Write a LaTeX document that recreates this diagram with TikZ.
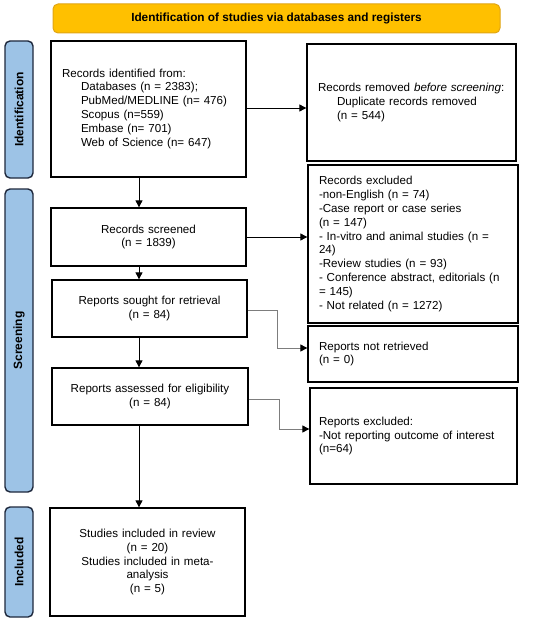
\documentclass[tikz,border=0pt]{standalone}
\usepackage{fontspec}
\setmainfont{Liberation Sans}
\usetikzlibrary{arrows.meta}
\definecolor{hdrfill}{RGB}{255,192,0}
\definecolor{hdrline}{RGB}{224,165,20}
\definecolor{sidefill}{RGB}{157,195,230}
\definecolor{sideline}{RGB}{30,40,60}
\definecolor{elbgray}{RGB}{125,125,125}
\tikzset{
  box/.style={draw=black, line width=1.3pt, fill=white, inner sep=0pt, font=\fontsize{11.6}{13.9}\selectfont},
  lbox/.style={box, align=left, inner xsep=11pt},
  cbox/.style={box, align=center, inner xsep=5pt},
  side/.style={draw=sideline, line width=1.4pt, fill=sidefill, rounded corners=5pt, rotate=90, inner sep=0pt, font=\fontsize{12}{14}\selectfont\bfseries},
  hdr/.style={draw=hdrline, line width=1pt, fill=hdrfill, rounded corners=5pt, inner sep=0pt, font=\fontsize{11.8}{14}\selectfont\bfseries},
  arr/.style={draw=black, line width=0.9pt, -{Triangle[length=7pt,width=7pt]}},
  elb/.style={draw=elbgray, line width=0.9pt, -{Triangle[length=7pt,width=7pt,color=black]}}
}
\begin{document}
\begin{tikzpicture}[x=1pt,y=-1pt]
\useasboundingbox (0,0) rectangle (550,623);
% header
\node[hdr, minimum width=447pt, minimum height=29pt] (hdr) at (276.5,18.5) {Identification of studies via databases and registers};
% side bars
\node[side, minimum width=137pt, minimum height=28pt] (sid) at (19,109.5) {Identification};
\node[side, minimum width=303pt, minimum height=28pt] (sscr) at (19,340.5) {Screening};
\node[side, minimum width=110pt, minimum height=28pt] (sinc) at (19,562) {Included};
% left column
\node[lbox, text width=173pt, minimum height=136pt] (b1) at (148.5,109)
  {Records identified from:\\[-1pt]
   \hspace*{19pt}Databases (n = 2383);\\
   \hspace*{19pt}PubMed/MEDLINE (n= 476)\\
   \hspace*{19pt}Scopus (n=559)\\
   \hspace*{19pt}Embase (n= 701)\\
   \hspace*{19pt}Web of Science (n= 647)};
\node[cbox, text width=185pt, minimum height=58pt] (scr) at (148.5,237)
  {Records screened\\(n = 1839)};
\node[cbox, text width=185pt, minimum height=57pt] (sought) at (149.5,308.5)
  {Reports sought for retrieval\\(n = 84)};
\node[cbox, text width=186pt, minimum height=57pt] (assess) at (150,396.5)
  {Reports assessed for eligibility\\(n = 84)};
\node[cbox, text width=185pt, minimum height=108pt] (incl) at (147.5,562)
  {Studies included in review\\(n = 20)\\Studies included in meta-\\analysis\\(n = 5)};
% right column
\node[lbox, text width=187pt, minimum height=117pt] (rem) at (411.5,102.5)
  {Records removed \textit{before screening}:\\
   \hspace*{19pt}Duplicate records removed\\
   \hspace*{19pt}(n = 544)};
\node[lbox, text width=188pt, minimum height=158pt] (exc) at (413,244)
  {Records excluded\\
   -non-English (n = 74)\\
   -Case report or case series\\
   (n = 147)\\
   - In-vitro and animal studies (n =\\
   24)\\
   -Review studies (n = 93)\\
   - Conference abstract, editorials (n\\
   = 145)\\
   - Not related (n = 1272)};
\node[lbox, text width=188pt, minimum height=56pt] (nr) at (413,354)
  {Reports not retrieved\\(n = 0)};
\node[lbox, inner xsep=9pt, text width=189pt, minimum height=96pt] (ex2) at (413.5,436)
  {Reports excluded:\\-Not reporting outcome of interest\\(n=64)};
% connectors
\draw[arr] ([yshift=1pt]b1.east) -- ([yshift=1pt]b1.east -| rem.west);
\draw[arr] (scr.east) -- (scr.east -| exc.west);
\draw[arr] ([xshift=-9.5pt]b1.south) -- ([xshift=-9.5pt]b1.south |- scr.north);
\draw[arr] ([xshift=-9.5pt]scr.south) -- ([xshift=-9.5pt]scr.south |- sought.north);
\draw[arr] ([xshift=-10.5pt]sought.south) -- ([xshift=-10.5pt]sought.south |- assess.north);
\draw[arr] ([xshift=-11pt]assess.south) -- ([xshift=-11pt]assess.south |- incl.north);
\draw[elb] ([yshift=-1.5pt]sought.east) -- ++(30,0) |- ([yshift=6pt]nr.west);
\draw[elb] ([yshift=-2.5pt]assess.east) -- ++(31,0) |- ([yshift=7pt]ex2.west);
\end{tikzpicture}
\end{document}
